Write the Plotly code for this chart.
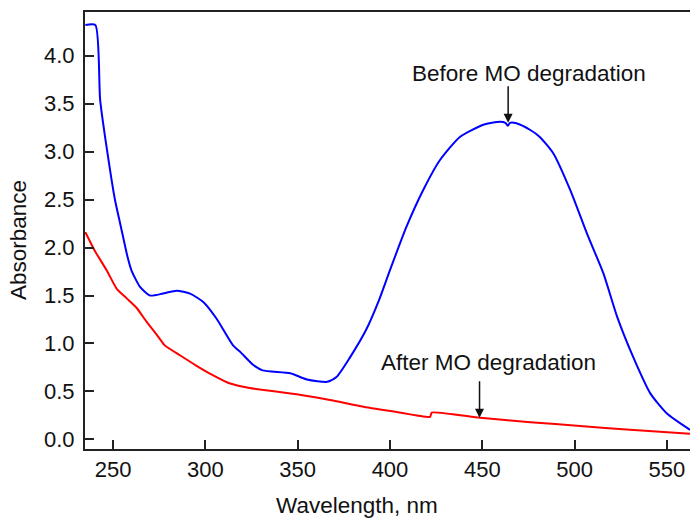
import plotly.graph_objects as go

# Before MO degradation (blue)
wl_before = [235, 240.4, 243, 246.7, 251, 254.2, 258, 260, 264.6, 270, 277, 284.5, 291.7, 299,
             306, 315, 319, 326, 331, 346, 355, 366, 371, 378, 387, 394, 400, 409, 418, 427,
             438, 450.6, 459.6, 462.5, 463.8, 465, 468.5, 476, 481, 488.5, 497.6, 506.6, 515.6,
             523, 531.7, 541, 550, 562.5]
abs_before = [4.32, 4.32, 3.54, 3.02, 2.50, 2.22, 1.89, 1.76, 1.59, 1.50, 1.52, 1.55, 1.52, 1.43,
              1.26, 0.98, 0.91, 0.775, 0.72, 0.69, 0.625, 0.60, 0.65, 0.845, 1.14, 1.45, 1.765, 2.22, 2.60, 2.91,
              3.155, 3.28, 3.31, 3.30, 3.27, 3.30, 3.295, 3.225, 3.155, 2.98, 2.60, 2.15, 1.73,
              1.28, 0.86, 0.48, 0.27, 0.10]

# After MO degradation (red)
wl_after = [235, 240, 246.6, 252, 257.4, 262.8, 268, 273.7, 278, 286, 295, 304, 313, 324,
            349.5, 367.5, 385.6, 403.7, 421.7, 422.6, 448.8, 476, 503, 530, 562.5]
abs_after = [2.16, 1.97, 1.76, 1.57, 1.47, 1.37, 1.23, 1.09, 0.98, 0.88, 0.77, 0.67, 0.585, 0.535,
             0.47, 0.41, 0.34, 0.285, 0.235, 0.28, 0.225, 0.18, 0.14, 0.10, 0.06]

x_ticks = [250, 300, 350, 400, 450, 500, 550]
y_ticks = [0.0, 0.5, 1.0, 1.5, 2.0, 2.5, 3.0, 3.5, 4.0]

font_family = "Liberation Sans, Arial, sans-serif"

fig = go.Figure()
fig.add_trace(go.Scatter(x=wl_before, y=abs_before, mode="lines",
                         line=dict(color="#0000FF", width=2, shape="spline", smoothing=0.6),
                         showlegend=False))
fig.add_trace(go.Scatter(x=wl_after, y=abs_after, mode="lines",
                         line=dict(color="#FF0000", width=2, shape="spline", smoothing=0.5),
                         showlegend=False))

fig.update_layout(
    width=690, height=518,
    margin=dict(l=85, r=0, t=12, b=69),
    paper_bgcolor="white", plot_bgcolor="white",
    font=dict(family=font_family, size=22, color="#111111"),
    xaxis=dict(range=[234.8, 562.5], tickvals=x_ticks, ticktext=[str(v) for v in x_ticks],
               ticks="inside", ticklen=9, tickwidth=1.5, tickcolor="#222222",
               showline=True, linecolor="#222222", linewidth=2, mirror=True,
               showgrid=False, zeroline=False, tickfont=dict(size=22), automargin=False),
    yaxis=dict(range=[-0.1, 4.455], tickvals=y_ticks, ticktext=[f"{v:.1f}" for v in y_ticks],
               ticks="inside", ticklen=9, tickwidth=1.5, tickcolor="#222222",
               showline=True, linecolor="#222222", linewidth=2, mirror=False,
               showgrid=False, zeroline=False, tickfont=dict(size=22), ticklabelstandoff=4,
               automargin=False),
)

# axis titles
fig.add_annotation(text="Wavelength, nm", xref="paper", yref="paper", x=0.449, y=-0.130,
                   xanchor="center", yanchor="middle", showarrow=False, font=dict(size=22.5))
fig.add_annotation(text="Absorbance", xref="paper", yref="paper", x=-0.111, y=0.478,
                   xanchor="center", yanchor="middle", textangle=-90, showarrow=False,
                   font=dict(size=22.5))

# labels
fig.add_annotation(text="Before MO degradation", x=464, y=3.3, xref="x", yref="y",
                   showarrow=False, xshift=21, yshift=49, font=dict(size=22.5))
fig.add_annotation(text="", x=464, y=3.3, xref="x", yref="y", showarrow=True,
                   ax=0, ay=-38, arrowhead=2, arrowsize=1.2, arrowwidth=1.5, arrowcolor="#111111")
fig.add_annotation(text="After MO degradation", x=448.5, y=0.225, xref="x", yref="y",
                   showarrow=False, xshift=9, yshift=55, font=dict(size=22.5))
fig.add_annotation(text="", x=448.5, y=0.225, xref="x", yref="y", showarrow=True,
                   ax=0, ay=-38, arrowhead=2, arrowsize=1.2, arrowwidth=1.5, arrowcolor="#111111")

fig.write_html("out.html", config={"displayModeBar": False},
               post_script="document.body.style.margin='0';document.body.style.overflow='hidden';")
